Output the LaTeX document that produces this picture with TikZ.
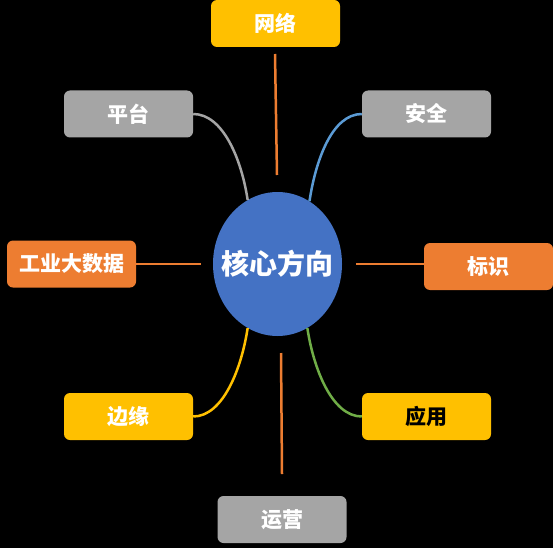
\documentclass[tikz,border=0pt]{standalone}
\usepackage{fontspec}
\setmainfont{Noto Sans CJK SC}
\usetikzlibrary{shapes.geometric}
\definecolor{cblue}{HTML}{4472C4}
\definecolor{corange}{HTML}{ED7D31}
\definecolor{cgray}{HTML}{A5A5A5}
\definecolor{cyellow}{HTML}{FFC000}
\definecolor{cgreen}{HTML}{70AD47}
\definecolor{clblue}{HTML}{5B9BD5}
\tikzset{
  leaf/.style={rounded corners=6pt, minimum width=129pt, minimum height=47pt, inner sep=0pt,
    text=white, font=\fontsize{21}{21}\selectfont\bfseries},
  link/.style={line width=2.5pt},
}
\begin{document}
\begin{tikzpicture}[x=1pt,y=-1pt]
\fill[black] (0,0) rectangle (553,548);
\useasboundingbox (0,0) rectangle (553,548);
\node[ellipse, fill=cblue, minimum width=129pt, minimum height=144pt, inner xsep=-12pt, inner ysep=0pt,
  text=white, font=\fontsize{28}{28}\selectfont\bfseries] (c) at (277.5,264) {核心方向};
\node[leaf, fill=cyellow] (wl) at (275.5,23.5) {网络};
\node[leaf, fill=cgray] (pt) at (128.5,114) {平台};
\node[leaf, fill=cgray] (aq) at (426.5,114) {安全};
\node[leaf, fill=corange] (gy) at (71.5,264) {工业大数据};
\node[leaf, fill=corange] (bs) at (488.5,266.5) {标识};
\node[leaf, fill=cyellow] (by) at (128.5,416.5) {边缘};
\node[leaf, fill=cyellow, text=black] (yy) at (426.5,416.5) {应用};
\node[leaf, fill=cgray] (yx) at (282,519.5) {运营};
\coordinate (wl1) at (275,54);
\coordinate (wl2) at (277,175);
\coordinate (gy1) at (201,264);
\coordinate (bs1) at (356,264);
\coordinate (yx1) at (281,353);
\coordinate (yx2) at (282,474);
\draw[link, corange] (wl1) -- (wl2);
\draw[link, corange] (gy.east) -- (gy1);
\draw[link, corange] (bs1) -- (bs.west |- bs1);
\draw[link, corange] (yx1) -- (yx2);
\draw[link, cgray] (pt.east) .. controls +(30,0) and +(-6,-40) .. (c.115);
\draw[link, clblue] (aq.west) .. controls +(-30,0) and +(6,-40) .. (c.63);
\draw[link, cyellow] (by.east) .. controls +(30,0) and +(-6,40) .. (c.245);
\draw[link, cgreen] (yy.west) .. controls +(-30,0) and +(6,40) .. (c.295);
\end{tikzpicture}
\end{document}
